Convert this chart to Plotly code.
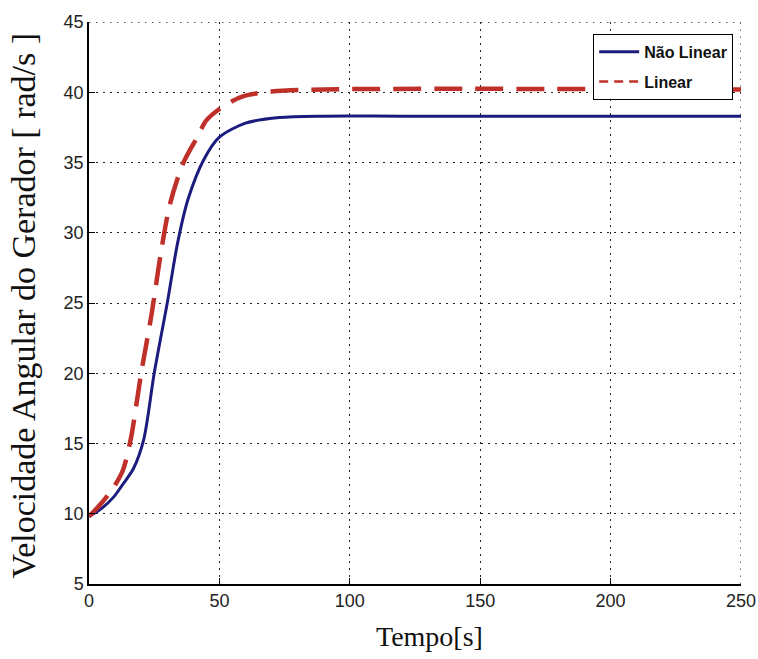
import plotly.graph_objects as go

# Generator angular speed response: nonlinear vs linearised model
t_nao_linear = [0, 5, 9.5, 13, 17, 21, 25, 30, 34, 38, 44, 50, 60, 73, 90, 120, 250]
v_nao_linear = [9.8, 10.4, 11.2, 12.1, 13.2, 15.3, 20.0, 25.0, 29.3, 32.4, 35.2, 36.8, 37.8, 38.2, 38.3, 38.3, 38.3]

t_linear = [0, 5, 9.5, 13, 16, 20, 24, 27.5, 31, 36, 41.5, 45, 51.5, 59, 70, 90, 250]
v_linear = [9.8, 10.8, 11.9, 13.1, 15.3, 20.0, 24.2, 28.5, 32.0, 34.9, 36.8, 38.0, 39.0, 39.7, 40.05, 40.2, 40.2]

x_ticks = [0, 50, 100, 150, 200, 250]
y_ticks = [5, 10, 15, 20, 25, 30, 35, 40, 45]

nl_color = "#1b1c7e"
lin_color = "#c0302a"

fig = go.Figure()

fig.add_trace(go.Scatter(
    x=t_nao_linear, y=v_nao_linear, mode="lines", name="Não Linear",
    line=dict(color=nl_color, width=3, shape="spline", smoothing=0.8),
    showlegend=False,
))
fig.add_trace(go.Scatter(
    x=t_linear, y=v_linear, mode="lines", name="Linear",
    line=dict(color=lin_color, width=4.5, dash="28px,13px", shape="spline", smoothing=0.8),
    showlegend=False,
))

# legend samples with thinner strokes
fig.add_trace(go.Scatter(
    x=[None], y=[None], mode="lines", name="Não Linear", legendgroup="a",
    line=dict(color=nl_color, width=3),
))
fig.add_trace(go.Scatter(
    x=[None], y=[None], mode="lines", name="Linear", legendgroup="b",
    line=dict(color=lin_color, width=2.5, dash="9px,6px"),
))

grid = dict(showgrid=True, gridcolor="#222222", gridwidth=1.3, griddash="1.5px,5.5px")
tick_font = dict(family="Liberation Sans, Arial", size=18, color="#222222")

fig.update_xaxes(
    range=[0, 250], tickvals=x_ticks, ticktext=[str(v) for v in x_ticks],
    showline=True, linecolor="black", linewidth=1.5, mirror=False,
    ticks="inside", ticklen=6, tickcolor="black", tickwidth=1,
    tickfont=tick_font, zeroline=False, automargin=False, **grid,
)
fig.update_yaxes(
    range=[5, 45], tickvals=y_ticks, ticktext=[str(v) for v in y_ticks],
    showline=True, linecolor="black", linewidth=1.5, mirror=False,
    ticks="inside", ticklen=6, tickcolor="black", tickwidth=1,
    tickfont=tick_font, zeroline=False, automargin=False, **grid,
)

# dotted frame along the top and right edges of the plot area
edge = dict(color="#222222", width=1.3, dash="1.5px,5.5px")
fig.add_shape(type="line", xref="x", yref="y", x0=x_ticks[0], x1=x_ticks[-1],
              y0=y_ticks[-1], y1=y_ticks[-1], line=edge)
fig.add_shape(type="line", xref="x", yref="y", x0=x_ticks[-1], x1=x_ticks[-1],
              y0=y_ticks[0], y1=y_ticks[-1], line=edge)

fig.add_annotation(
    text="Tempo[s]", xref="paper", yref="paper", x=0.523, y=-0.093,
    xanchor="center", yanchor="middle", showarrow=False,
    font=dict(family="Liberation Serif, Times New Roman, serif", size=28, color="#111111"),
)
fig.add_annotation(
    text="Velocidade Angular do Gerador [ rad/s ]", xref="paper", yref="paper",
    x=-0.1, y=0.495, xanchor="center", yanchor="middle", showarrow=False, textangle=-90,
    font=dict(family="Liberation Serif, Times New Roman, serif", size=34, color="#111111"),
)

fig.update_layout(
    width=758, height=659,
    margin=dict(l=89, r=17, t=22, b=75, autoexpand=False),
    paper_bgcolor="white", plot_bgcolor="white",
    legend=dict(
        x=0.988, y=0.979, xanchor="right", yanchor="top",
        bgcolor="white", bordercolor="black", borderwidth=1,
        font=dict(family="Liberation Sans, Arial", size=16, color="#111111", weight="bold"),
        itemwidth=40, tracegroupgap=6,
    ),
)

fig.write_html("out.html")
